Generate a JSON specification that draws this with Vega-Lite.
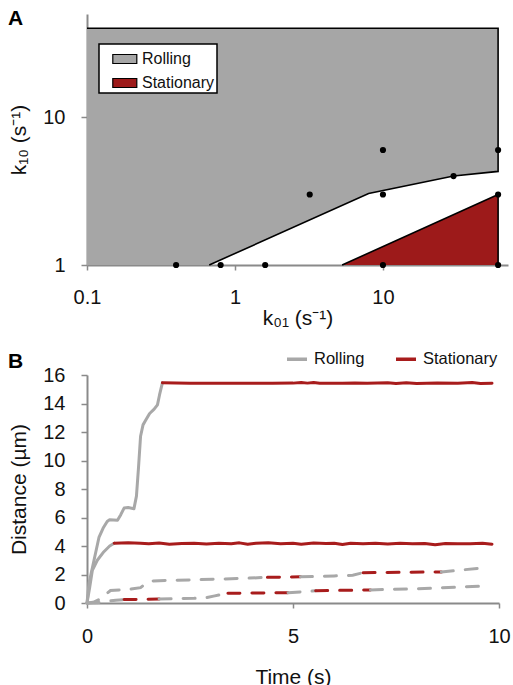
{
  "$schema": "https://vega.github.io/schema/vega-lite/v6.json",
  "padding": {"left": 8, "top": 8, "right": 4, "bottom": 0},
  "spacing": 19,
  "datasets": {
    "regions": [
      {"regime": "Rolling", "k01": 0.1, "lo": 1, "hi": 40},
      {"regime": "Rolling", "k01": 0.67, "lo": 1, "hi": 40},
      {"regime": "Rolling", "k01": 8, "lo": 3.05, "hi": 40},
      {"regime": "Rolling", "k01": 30, "lo": 4.0, "hi": 40},
      {"regime": "Rolling", "k01": 60, "lo": 4.3, "hi": 40},
      {"regime": "Stationary", "k01": 5.3, "lo": 1, "hi": 1},
      {"regime": "Stationary", "k01": 60, "lo": 1, "hi": 3}
    ],
    "outlines": [
      {"shape": "rolling", "step": 1, "k01": 0.1, "k10": 40},
      {"shape": "rolling", "step": 2, "k01": 60, "k10": 40},
      {"shape": "rolling", "step": 3, "k01": 60, "k10": 4.3},
      {"shape": "rolling", "step": 4, "k01": 30, "k10": 4.0},
      {"shape": "rolling", "step": 5, "k01": 8, "k10": 3.05},
      {"shape": "rolling", "step": 6, "k01": 0.67, "k10": 1},
      {"shape": "stationary", "step": 1, "k01": 5.3, "k10": 1},
      {"shape": "stationary", "step": 2, "k01": 60, "k10": 3},
      {"shape": "stationary", "step": 3, "k01": 60, "k10": 1}
    ],
    "sims": [
      {"k01": 0.4, "k10": 1}, {"k01": 0.8, "k10": 1}, {"k01": 1.6, "k10": 1},
      {"k01": 3.2, "k10": 3}, {"k01": 10, "k10": 1}, {"k01": 10, "k10": 3},
      {"k01": 10, "k10": 6}, {"k01": 30, "k10": 4}, {"k01": 60, "k10": 1},
      {"k01": 60, "k10": 3}, {"k01": 60, "k10": 6}
    ],
    "solid": [
      {"seg": "s1a", "state": "Rolling", "t": 0, "d": 0},
      {"seg": "s1a", "state": "Rolling", "t": 0.05, "d": 1.4},
      {"seg": "s1a", "state": "Rolling", "t": 0.17, "d": 3.0},
      {"seg": "s1a", "state": "Rolling", "t": 0.29, "d": 4.6},
      {"seg": "s1a", "state": "Rolling", "t": 0.4, "d": 5.3},
      {"seg": "s1a", "state": "Rolling", "t": 0.49, "d": 5.72},
      {"seg": "s1a", "state": "Rolling", "t": 0.55, "d": 5.85},
      {"seg": "s1a", "state": "Rolling", "t": 0.74, "d": 5.8},
      {"seg": "s1a", "state": "Rolling", "t": 0.82, "d": 6.2},
      {"seg": "s1a", "state": "Rolling", "t": 0.9, "d": 6.66},
      {"seg": "s1a", "state": "Rolling", "t": 1.0, "d": 6.7},
      {"seg": "s1a", "state": "Rolling", "t": 1.14, "d": 6.62},
      {"seg": "s1a", "state": "Rolling", "t": 1.2, "d": 7.5},
      {"seg": "s1a", "state": "Rolling", "t": 1.25, "d": 9.5},
      {"seg": "s1a", "state": "Rolling", "t": 1.3, "d": 11.7},
      {"seg": "s1a", "state": "Rolling", "t": 1.36, "d": 12.5},
      {"seg": "s1a", "state": "Rolling", "t": 1.42, "d": 12.8},
      {"seg": "s1a", "state": "Rolling", "t": 1.52, "d": 13.3},
      {"seg": "s1a", "state": "Rolling", "t": 1.63, "d": 13.6},
      {"seg": "s1a", "state": "Rolling", "t": 1.71, "d": 13.9},
      {"seg": "s1a", "state": "Rolling", "t": 1.76, "d": 14.6},
      {"seg": "s1a", "state": "Rolling", "t": 1.83, "d": 15.45},
      {"seg": "s1b", "state": "Stationary", "t": 1.83, "d": 15.45},
      {"seg": "s1b", "state": "Stationary", "t": 2.5, "d": 15.42},
      {"seg": "s1b", "state": "Stationary", "t": 3.5, "d": 15.42},
      {"seg": "s1b", "state": "Stationary", "t": 4.5, "d": 15.42},
      {"seg": "s1b", "state": "Stationary", "t": 5.0, "d": 15.43},
      {"seg": "s1b", "state": "Stationary", "t": 5.2, "d": 15.47},
      {"seg": "s1b", "state": "Stationary", "t": 5.35, "d": 15.43},
      {"seg": "s1b", "state": "Stationary", "t": 5.5, "d": 15.48},
      {"seg": "s1b", "state": "Stationary", "t": 5.65, "d": 15.42},
      {"seg": "s1b", "state": "Stationary", "t": 6.2, "d": 15.42},
      {"seg": "s1b", "state": "Stationary", "t": 6.5, "d": 15.44},
      {"seg": "s1b", "state": "Stationary", "t": 6.8, "d": 15.42},
      {"seg": "s1b", "state": "Stationary", "t": 7.3, "d": 15.45},
      {"seg": "s1b", "state": "Stationary", "t": 7.5, "d": 15.4},
      {"seg": "s1b", "state": "Stationary", "t": 7.75, "d": 15.46},
      {"seg": "s1b", "state": "Stationary", "t": 8.0, "d": 15.41},
      {"seg": "s1b", "state": "Stationary", "t": 8.5, "d": 15.44},
      {"seg": "s1b", "state": "Stationary", "t": 9.0, "d": 15.42},
      {"seg": "s1b", "state": "Stationary", "t": 9.35, "d": 15.47},
      {"seg": "s1b", "state": "Stationary", "t": 9.55, "d": 15.41},
      {"seg": "s1b", "state": "Stationary", "t": 9.83, "d": 15.42},
      {"seg": "s2a", "state": "Rolling", "t": 0, "d": 0},
      {"seg": "s2a", "state": "Rolling", "t": 0.06, "d": 1.0},
      {"seg": "s2a", "state": "Rolling", "t": 0.13, "d": 2.3},
      {"seg": "s2a", "state": "Rolling", "t": 0.25, "d": 3.0},
      {"seg": "s2a", "state": "Rolling", "t": 0.41, "d": 3.6},
      {"seg": "s2a", "state": "Rolling", "t": 0.55, "d": 4.0},
      {"seg": "s2a", "state": "Rolling", "t": 0.66, "d": 4.2},
      {"seg": "s2b", "state": "Stationary", "t": 0.66, "d": 4.2},
      {"seg": "s2b", "state": "Stationary", "t": 1.0, "d": 4.22},
      {"seg": "s2b", "state": "Stationary", "t": 1.3, "d": 4.2},
      {"seg": "s2b", "state": "Stationary", "t": 1.5, "d": 4.16},
      {"seg": "s2b", "state": "Stationary", "t": 1.75, "d": 4.21},
      {"seg": "s2b", "state": "Stationary", "t": 2.0, "d": 4.13},
      {"seg": "s2b", "state": "Stationary", "t": 2.3, "d": 4.17},
      {"seg": "s2b", "state": "Stationary", "t": 2.6, "d": 4.2},
      {"seg": "s2b", "state": "Stationary", "t": 2.9, "d": 4.14},
      {"seg": "s2b", "state": "Stationary", "t": 3.2, "d": 4.2},
      {"seg": "s2b", "state": "Stationary", "t": 3.5, "d": 4.16},
      {"seg": "s2b", "state": "Stationary", "t": 3.7, "d": 4.22},
      {"seg": "s2b", "state": "Stationary", "t": 3.9, "d": 4.12},
      {"seg": "s2b", "state": "Stationary", "t": 4.1, "d": 4.19},
      {"seg": "s2b", "state": "Stationary", "t": 4.4, "d": 4.22},
      {"seg": "s2b", "state": "Stationary", "t": 4.7, "d": 4.16},
      {"seg": "s2b", "state": "Stationary", "t": 5.0, "d": 4.2},
      {"seg": "s2b", "state": "Stationary", "t": 5.2, "d": 4.13},
      {"seg": "s2b", "state": "Stationary", "t": 5.5, "d": 4.21},
      {"seg": "s2b", "state": "Stationary", "t": 5.8, "d": 4.17},
      {"seg": "s2b", "state": "Stationary", "t": 6.0, "d": 4.2},
      {"seg": "s2b", "state": "Stationary", "t": 6.2, "d": 4.1},
      {"seg": "s2b", "state": "Stationary", "t": 6.4, "d": 4.2},
      {"seg": "s2b", "state": "Stationary", "t": 6.7, "d": 4.15},
      {"seg": "s2b", "state": "Stationary", "t": 7.0, "d": 4.2},
      {"seg": "s2b", "state": "Stationary", "t": 7.3, "d": 4.14},
      {"seg": "s2b", "state": "Stationary", "t": 7.6, "d": 4.2},
      {"seg": "s2b", "state": "Stationary", "t": 7.9, "d": 4.16},
      {"seg": "s2b", "state": "Stationary", "t": 8.2, "d": 4.18},
      {"seg": "s2b", "state": "Stationary", "t": 8.45, "d": 4.08},
      {"seg": "s2b", "state": "Stationary", "t": 8.7, "d": 4.17},
      {"seg": "s2b", "state": "Stationary", "t": 9.0, "d": 4.15},
      {"seg": "s2b", "state": "Stationary", "t": 9.3, "d": 4.16},
      {"seg": "s2b", "state": "Stationary", "t": 9.6, "d": 4.2},
      {"seg": "s2b", "state": "Stationary", "t": 9.83, "d": 4.13}
    ],
    "dashed": [
      {"seg": "d1a", "state": "Rolling", "t": 0, "d": 0},
      {"seg": "d1a", "state": "Rolling", "t": 0.15, "d": 0.05},
      {"seg": "d1a", "state": "Rolling", "t": 0.3, "d": 0.25},
      {"seg": "d1a", "state": "Rolling", "t": 0.45, "d": 0.6},
      {"seg": "d1a", "state": "Rolling", "t": 0.57, "d": 0.88},
      {"seg": "d1a", "state": "Rolling", "t": 1.0, "d": 0.95},
      {"seg": "d1a", "state": "Rolling", "t": 1.3, "d": 1.08},
      {"seg": "d1a", "state": "Rolling", "t": 1.42, "d": 1.35},
      {"seg": "d1a", "state": "Rolling", "t": 1.6, "d": 1.55},
      {"seg": "d1a", "state": "Rolling", "t": 2.5, "d": 1.62},
      {"seg": "d1a", "state": "Rolling", "t": 3.5, "d": 1.7},
      {"seg": "d1a", "state": "Rolling", "t": 4.38, "d": 1.8},
      {"seg": "d1b", "state": "Stationary", "t": 4.38, "d": 1.8},
      {"seg": "d1b", "state": "Stationary", "t": 5.18, "d": 1.84},
      {"seg": "d1c", "state": "Rolling", "t": 5.18, "d": 1.84},
      {"seg": "d1c", "state": "Rolling", "t": 6.0, "d": 1.9},
      {"seg": "d1c", "state": "Rolling", "t": 6.45, "d": 1.95},
      {"seg": "d1c", "state": "Rolling", "t": 6.7, "d": 2.13},
      {"seg": "d1d", "state": "Stationary", "t": 6.7, "d": 2.13},
      {"seg": "d1d", "state": "Stationary", "t": 8.6, "d": 2.18},
      {"seg": "d1e", "state": "Rolling", "t": 8.6, "d": 2.18},
      {"seg": "d1e", "state": "Rolling", "t": 9.53, "d": 2.44},
      {"seg": "d2a", "state": "Rolling", "t": 0, "d": 0},
      {"seg": "d2a", "state": "Rolling", "t": 0.3, "d": 0.03},
      {"seg": "d2a", "state": "Rolling", "t": 0.5, "d": 0.12},
      {"seg": "d2a", "state": "Rolling", "t": 0.7, "d": 0.2},
      {"seg": "d2a", "state": "Rolling", "t": 0.9, "d": 0.24},
      {"seg": "d2b", "state": "Stationary", "t": 0.9, "d": 0.24},
      {"seg": "d2b", "state": "Stationary", "t": 1.75, "d": 0.28},
      {"seg": "d2c", "state": "Rolling", "t": 1.75, "d": 0.28},
      {"seg": "d2c", "state": "Rolling", "t": 2.6, "d": 0.33},
      {"seg": "d2c", "state": "Rolling", "t": 2.9, "d": 0.38},
      {"seg": "d2c", "state": "Rolling", "t": 3.1, "d": 0.5},
      {"seg": "d2c", "state": "Rolling", "t": 3.42, "d": 0.68},
      {"seg": "d2d", "state": "Stationary", "t": 3.42, "d": 0.68},
      {"seg": "d2d", "state": "Stationary", "t": 4.88, "d": 0.72},
      {"seg": "d2e", "state": "Rolling", "t": 4.88, "d": 0.72},
      {"seg": "d2e", "state": "Rolling", "t": 5.3, "d": 0.8},
      {"seg": "d2e", "state": "Rolling", "t": 5.55, "d": 0.86},
      {"seg": "d2f", "state": "Stationary", "t": 5.55, "d": 0.86},
      {"seg": "d2f", "state": "Stationary", "t": 6.88, "d": 0.92},
      {"seg": "d2g", "state": "Rolling", "t": 6.88, "d": 0.92},
      {"seg": "d2g", "state": "Rolling", "t": 8.0, "d": 1.0},
      {"seg": "d2g", "state": "Rolling", "t": 9.53, "d": 1.18}
    ]
  },
  "vconcat": [
    {
      "width": 421,
      "height": 251,
      "title": {"text": "A", "anchor": "start", "frame": "group", "fontSize": 21, "fontWeight": "bold", "baseline": "alphabetic", "offset": -32, "dx": -79},
      "layer": [
        {
          "data": {"name": "regions"},
          "mark": {"type": "area", "opacity": 1},
          "encoding": {
            "x": {"field": "k01", "type": "quantitative", "scale": {"type": "log", "domain": [0.1, 70], "nice": false},
                  "axis": {"values": [0.1, 1, 10], "format": "~g", "title": "k₀₁ (s⁻¹)", "labelPadding": 17, "titlePadding": 0}},
            "y": {"field": "lo", "type": "quantitative", "scale": {"type": "log", "domain": [1, 50], "nice": false},
                  "axis": {"values": [1, 10], "format": "~g", "title": "k₁₀ (s⁻¹)", "tickSize": 6, "labelPadding": 16, "titlePadding": 13, "labelOverlap": false}},
            "y2": {"field": "hi"},
            "color": {"field": "regime", "type": "nominal",
                      "scale": {"domain": ["Rolling", "Stationary"], "range": ["#a6a6a6", "#9d1a1a"]},
                      "legend": {"title": null, "orient": "none", "legendX": 12, "legendY": 30,
                                 "fillColor": "#ffffff", "strokeColor": "#000000",
                                 "padding": 2, "rowPadding": 3, "labelFontSize": 16, "labelOffset": 15,
                                 "symbolType": "M-0.1,-0.375H1.9V0.375H-0.1Z", "symbolSize": 576,
                                 "symbolStrokeColor": "#000000", "symbolStrokeWidth": 1.2, "symbolOpacity": 1}}
          }
        },
        {
          "data": {"name": "outlines"},
          "mark": {"type": "line", "color": "#000000", "strokeWidth": 1.6},
          "encoding": {
            "x": {"field": "k01", "type": "quantitative"},
            "y": {"field": "k10", "type": "quantitative"},
            "detail": {"field": "shape"},
            "order": {"field": "step"}
          }
        },
        {
          "data": {"name": "sims"},
          "mark": {"type": "point", "filled": true, "color": "#000000", "opacity": 1, "size": 38},
          "encoding": {
            "x": {"field": "k01", "type": "quantitative"},
            "y": {"field": "k10", "type": "quantitative"}
          }
        }
      ]
    },
    {
      "width": 412,
      "height": 228,
      "title": {"text": "B", "anchor": "start", "frame": "group", "fontSize": 21, "fontWeight": "bold", "baseline": "alphabetic", "offset": -42, "dx": -79},
      "encoding": {
        "x": {"field": "t", "type": "quantitative", "scale": {"domain": [0, 10], "nice": false},
              "axis": {"values": [0, 5, 10], "title": "Time (s)", "labelPadding": 18, "titlePadding": 20}},
        "y": {"field": "d", "type": "quantitative", "scale": {"domain": [0, 16], "nice": false},
              "axis": {"values": [0, 2, 4, 6, 8, 10, 12, 14, 16], "title": "Distance (µm)", "tickSize": 6, "labelPadding": 16, "titlePadding": 13, "labelOverlap": false}},
        "detail": {"field": "seg"},
        "color": {"field": "state", "type": "nominal",
                  "scale": {"domain": ["Rolling", "Stationary"], "range": ["#a8a8a8", "#a81c1c"]},
                  "legend": {"title": null, "orient": "none", "direction": "horizontal", "legendX": 198, "legendY": -28,
                             "symbolType": "stroke", "symbolSize": 400, "symbolStrokeWidth": 3.5, "symbolDash": [1, 0],
                             "labelFontSize": 16.5, "labelOffset": 5, "columnPadding": 24}}
      },
      "layer": [
        {
          "data": {"name": "solid"},
          "mark": {"type": "line", "strokeWidth": 3, "strokeCap": "round", "strokeJoin": "round"}
        },
        {
          "data": {"name": "dashed"},
          "mark": {"type": "line", "strokeWidth": 3, "strokeDash": [12, 12], "strokeCap": "round"}
        }
      ]
    }
  ],
  "resolve": {"scale": {"color": "independent"}, "legend": {"color": "independent"}},
  "config": {
    "font": "Liberation Sans",
    "view": {"stroke": null},
    "title": {"color": "#000000"},
    "axis": {
      "grid": false,
      "domainColor": "#8a8a8a",
      "domainWidth": 2,
      "tickColor": "#8a8a8a",
      "tickWidth": 1.5,
      "tickSize": 5,
      "labelFontSize": 20,
      "labelColor": "#111111",
      "labelFlush": false,
      "labelOverlap": false,
      "titleFontSize": 21,
      "titleFontWeight": "normal",
      "titleColor": "#111111"
    },
    "legend": {"labelColor": "#111111", "labelFont": "Liberation Sans", "strokeWidth": 1.5}
  }
}
